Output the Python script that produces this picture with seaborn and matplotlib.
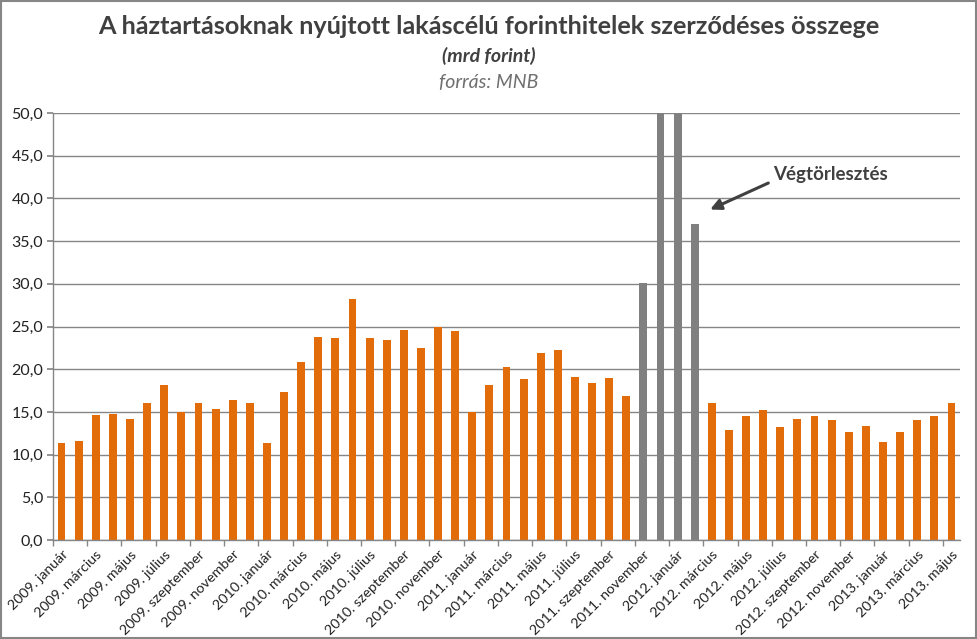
import matplotlib
matplotlib.use("Agg")
import matplotlib.pyplot as plt
import seaborn as sns
import pandas as pd

months_hu = ["január", "február", "március", "április", "május", "június",
             "július", "augusztus", "szeptember", "október", "november", "december"]
years = [2009, 2010, 2011, 2012, 2013]
categories = [f"{y}. {m}" for y in years for m in months_hu][:53]

values = [11.4, 11.6, 14.6, 14.7, 14.2, 16.0, 18.1, 15.0, 16.1, 15.3, 16.4, 16.1,
          11.3, 17.3, 20.9, 23.8, 23.6, 28.2, 23.6, 23.4, 24.6, 22.5, 24.9, 24.5,
          15.0, 18.2, 20.2, 18.9, 21.9, 22.3, 19.1, 18.4, 19.0, 16.9, 30.1, 62.0,
          55.0, 37.0,
          16.0, 12.9, 14.5, 15.2, 13.2, 14.2, 14.5, 14.0, 12.7, 13.3, 11.5, 12.7,
          14.0, 14.5, 16.1]
special = ["2011. november", "2011. december", "2012. január", "2012. február"]
colors = ["#808080" if c in special else "#E36C0A" for c in categories]

df = pd.DataFrame({"hónap": categories, "érték": values})

sns.set_theme(style="white")
plt.rcParams["font.family"] = ["Lato", "DejaVu Sans"]

fig = plt.figure(figsize=(9.78, 6.39), dpi=100)
ax = fig.add_axes([53/978, 1 - 540/639, (960-53)/978, (540-113)/639])

sns.barplot(data=df, x="hónap", y="érték", hue="hónap", palette=colors,
            width=0.46, legend=False, ax=ax, saturation=1, linewidth=0)

ax.set_ylim(0, 50)
ax.set_xlim(-0.5, len(categories) - 0.5)
yt = [i * 5 for i in range(11)]
ax.set_yticks(yt)
ax.set_yticklabels([f"{v:.1f}".replace(".", ",") for v in yt], fontsize=11.5, color="#222222")
ax.yaxis.grid(True, color="#868686", linewidth=1)
ax.set_axisbelow(True)
ax.tick_params(axis="y", length=4, color="#868686", direction="out", left=True, pad=3)

xt = list(range(0, len(categories), 2))
ax.set_xticks(xt)
ax.set_xticklabels([categories[i] for i in xt], rotation=45, ha="right",
                   rotation_mode="anchor", fontsize=10.3, color="#222222")
ax.set_xticks([i - 0.5 for i in range(0, len(categories) + 1, 2)], minor=True)
ax.tick_params(axis="x", which="major", length=0, pad=6)
ax.tick_params(axis="x", which="minor", length=4, color="#868686", direction="out", bottom=True)
ax.set_xlabel("")
ax.set_ylabel("")

for s in ["top", "right"]:
    ax.spines[s].set_visible(False)
for s in ["left", "bottom"]:
    ax.spines[s].set_color("#868686")
    ax.spines[s].set_linewidth(1)

fig.text(0.5, 1 - 27/639, "A háztartásoknak nyújtott lakáscélú forinthitelek szerződéses összege",
         ha="center", va="center", fontsize=18.2, fontweight="bold", color="#404040")
fig.text(0.5, 1 - 56/639, "(mrd forint)", ha="center", va="center", fontsize=14,
         fontweight="bold", fontstyle="italic", color="#404040")
fig.text(0.5, 1 - 83/639, "forrás: MNB", ha="center", va="center", fontsize=14,
         fontstyle="italic", color="#6f6f6f")

ax.text(41.6, 42.8, "Végtörlesztés", fontsize=13.5, fontweight="bold",
        color="#404040", ha="left", va="center")
ax.annotate("", xy=(37.9, 38.7), xytext=(41.3, 41.8),
            arrowprops=dict(arrowstyle="-|>", color="#404040", lw=2.2, mutation_scale=16,
                            shrinkA=0, shrinkB=0))

border = plt.Rectangle((0.001, 0.001), 0.997, 0.997, transform=fig.transFigure,
                       fill=False, edgecolor="#868686", linewidth=1.5)
fig.patches.append(border)

fig.savefig("out.png", dpi=100)
